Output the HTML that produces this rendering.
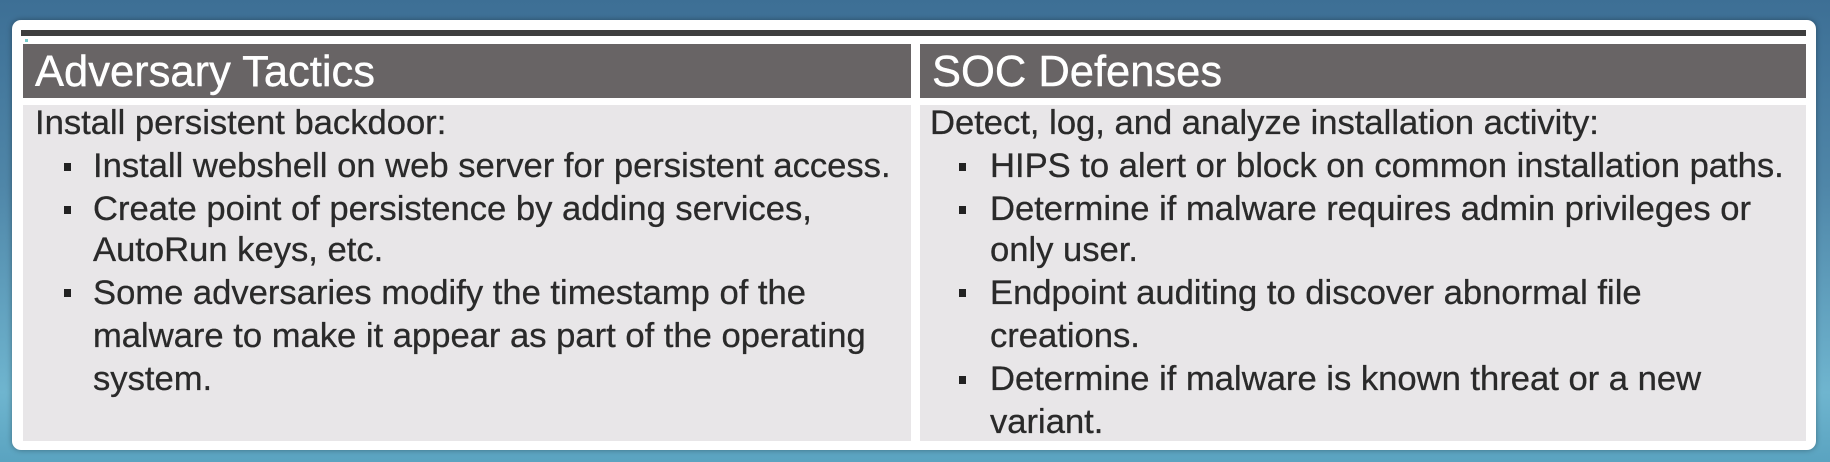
<!DOCTYPE html>
<html><head><meta charset="utf-8"><style>
html,body{margin:0;padding:0}
body{width:1830px;height:462px;position:relative;overflow:hidden;
background:linear-gradient(180deg,#3d6f95 0%,#4f86a8 40%,#6fb5cf 85%,#5aa3c0 100%);
font-family:"Liberation Sans",Arial,sans-serif;}
.card{position:absolute;left:12px;top:20px;width:1804px;height:430px;background:#fff;border-radius:9px;box-shadow:0 0 6px rgba(0,0,0,.35)}
.bar{position:absolute;left:21px;top:30px;width:1785px;height:6px;background:#3e3e3e}
.dot{position:absolute;left:25px;top:39px;width:3px;height:3px;background:#7cc}
.hdr{position:absolute;top:44px;height:54px;background:#686465;color:#fff;font-size:43.5px;line-height:56px;padding-left:12px;box-sizing:border-box;-webkit-text-stroke:0.4px #fff}
.bd{position:absolute;top:105px;height:336px;background:#e8e6e8}
.t{position:absolute;font-size:34.6px;color:#2a2a2a;white-space:nowrap;line-height:43px;-webkit-text-stroke:0.3px #2a2a2a;margin-top:2px}
.b{position:absolute;width:7px;height:8px;background:#222;margin-top:2px}
</style></head><body>
<div class="card"></div>
<div class="bar"></div>
<div class="dot"></div>
<div class="hdr" style="left:23px;width:888px">Adversary Tactics</div>
<div class="hdr" style="left:920px;width:886px">SOC Defenses</div>
<div class="bd" style="left:23px;width:888px"></div>
<div class="bd" style="left:920px;width:886px"></div>

<div class="t" style="left:35px;top:100px">Install persistent backdoor:</div>
<div class="b" style="left:64px;top:161px"></div>
<div class="t" style="left:93px;top:143px">Install webshell on web server for persistent access.</div>
<div class="b" style="left:64px;top:204px"></div>
<div class="t" style="left:93px;top:186px">Create point of persistence by adding services,</div>
<div class="t" style="left:93px;top:227px">AutoRun keys, etc.</div>
<div class="b" style="left:64px;top:287px"></div>
<div class="t" style="left:93px;top:270px">Some adversaries modify the timestamp of the</div>
<div class="t" style="left:93px;top:313px">malware to make it appear as part of the operating</div>
<div class="t" style="left:93px;top:356px">system.</div>

<div class="t" style="left:930px;top:100px">Detect, log, and analyze installation activity:</div>
<div class="b" style="left:959px;top:161px"></div>
<div class="t" style="left:990px;top:143px">HIPS to alert or block on common installation paths.</div>
<div class="b" style="left:959px;top:204px"></div>
<div class="t" style="left:990px;top:186px">Determine if malware requires admin privileges or</div>
<div class="t" style="left:990px;top:227px">only user.</div>
<div class="b" style="left:959px;top:287px"></div>
<div class="t" style="left:990px;top:270px">Endpoint auditing to discover abnormal file</div>
<div class="t" style="left:990px;top:313px">creations.</div>
<div class="b" style="left:959px;top:374px"></div>
<div class="t" style="left:990px;top:356px">Determine if malware is known threat or a new</div>
<div class="t" style="left:990px;top:399px">variant.</div>
</body></html>
